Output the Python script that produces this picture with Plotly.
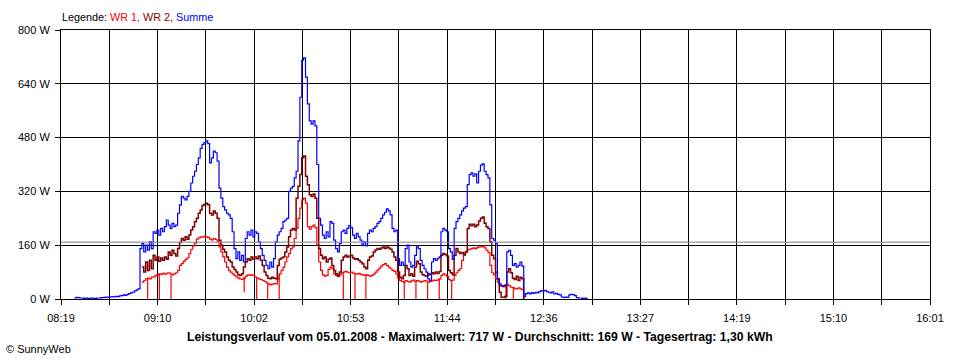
import numpy as np
import plotly.graph_objects as go

# ---------------- data ----------------
# minute samples; each list starts at its *_start time, one value per minute
summe_start = "08:26"
summe_w = [
    3, 5, 4, 3, 3, 2, 3, 2, 2, 3,
    2, 2, 3, 3, 4, 4, 5, 6, 5, 6,
    7, 6, 8, 7, 9, 10, 12, 11, 14, 16,
    18, 20, 24, 27, 30, 150, 165, 140, 160, 145,
    170, 150, 200, 195, 205, 190, 210, 200, 215, 235,
    220, 210, 225, 215, 220, 255, 280, 305, 300, 295,
    305, 320, 345, 365, 380, 400, 420, 448, 460, 465,
    470, 462, 405, 420, 440, 435, 410, 330, 300, 275,
    265, 255, 250, 240, 200, 150, 120, 140, 115, 130,
    110, 180, 200, 190, 205, 185, 200, 195, 170, 150,
    130, 115, 100, 90, 110, 95, 120, 170, 190, 200,
    210, 230, 235, 240, 320, 330, 335, 360, 380, 470,
    600, 710, 717, 660, 580, 530, 520, 530, 515, 400,
    240, 220, 190, 180, 200, 185, 230, 225, 175, 150,
    140, 165, 200, 205, 195, 210, 218, 212, 190, 180,
    195, 185, 175, 160, 170, 158, 195, 205, 200, 210,
    215, 225, 230, 240, 250, 258, 268, 262, 250, 210,
    200, 205, 120, 100, 110, 100, 150, 160, 110, 95,
    100, 130, 155, 150, 115, 100, 90, 80, 60, 55,
    110, 120, 115, 120, 125, 200, 210, 205, 200, 150,
    140, 118, 210, 230, 240, 250, 262, 270, 275, 340,
    370, 375, 365, 372, 345, 380, 398, 402, 380, 370,
    360, 280, 180, 175, 165, 60, 45, 40, 38, 42,
    140, 145, 130, 100, 105, 95, 100, 110, 98, 8,
    16, 18, 15, 19, 17, 20, 18, 22, 25, 24,
    26, 22, 20, 18, 21, 15, 17, 14, 12, 6,
    5, 6, 5, 12, 14, 13, 10, 4, 3, 3,
    2, 3, 2, 2,
]

wr_start = "09:02"
wr1_w = [
    50, 55, 60, 62, 60, 65, 66, 70, 72, 75,
    73, 76, 74, 77, 78, 75, 72, 75, 78, 85,
    100, 105, 112, 118, 122, 135, 148, 158, 166, 178,
    182, 185, 184, 187, 185, 183, 178, 176, 180, 177,
    172, 155, 140, 125, 110, 95, 85, 80, 75, 70,
    66, 62, 60, 58, 62, 68, 72, 70, 72, 70,
    65, 62, 60, 58, 55, 52, 48, 45, 42, 44,
    46, 45, 60, 75, 85, 95, 110, 125, 135, 150,
    155, 180, 210, 240, 270, 295, 300, 285, 215, 208,
    215, 220, 212, 160, 110, 85, 72, 68, 70, 88,
    95, 90, 75, 70, 68, 72, 78, 80, 82, 80,
    78, 80, 77, 75, 74, 76, 73, 72, 70, 72,
    70, 68, 70, 74, 80, 86, 92, 98, 102, 105,
    100, 95, 90, 85, 82, 75, 62, 55, 52, 50,
    55, 52, 50, 54, 56, 52, 55, 53, 50, 52,
    55, 53, 50, 52, 54, 56, 55, 57, 60, 70,
    75, 72, 68, 58, 55, 56, 70, 78, 85, 90,
    115, 130, 140, 146, 148, 150, 152, 150, 153, 155,
    155, 157, 152, 145, 138, 100, 78, 72, 60, 50,
    40, 38, 36, 40, 42, 40, 35, 34, 30, 31,
    33, 30, 28, 0,
]

wr2_w = [
    95, 80, 110, 85, 115, 90, 130, 115, 125, 112,
    122, 115, 125, 118, 140, 130, 145, 135, 128, 150,
    168, 180, 175, 185, 178, 190, 205, 215, 230, 240,
    255, 265, 278, 282, 285, 280, 255, 250, 262, 255,
    240, 175, 160, 148, 140, 125, 115, 110, 95, 88,
    80, 72, 70, 75, 95, 110, 120, 115, 125, 118,
    125, 120, 128, 115, 100, 80, 70, 62, 60, 65,
    62, 60, 100, 118, 122, 125, 140, 155, 185, 205,
    210, 205, 300, 335, 370, 420, 425, 365, 340, 310,
    305, 312, 300, 240, 150, 130, 120, 125, 110, 118,
    122, 100, 85, 75, 68, 80, 115, 125, 130, 125,
    128, 130, 122, 118, 120, 115, 110, 105, 95, 90,
    115, 125, 128, 140, 146, 150, 148, 152, 155, 150,
    155, 152, 148, 140, 125, 115, 80, 65, 60, 70,
    100, 90, 70, 75, 68, 95, 112, 105, 80, 72,
    70, 68, 75, 72, 78, 75, 80, 76, 82, 130,
    135, 132, 128, 85, 78, 72, 130, 150, 140, 135,
    138, 132, 140, 210, 222, 218, 222, 215, 220, 232,
    240, 244, 225, 215, 210, 170, 130, 120, 80, 60,
    20, 5, 5, 8, 80, 90, 78, 62, 58, 68,
    55, 65, 60, 0,
]

# short dropouts of WR 1 (time, value reached)
wr1_drop_times = ["09:05:06", "09:11:18", "09:17:30", "09:56:24", "10:03:00",
                  "10:08:54", "10:15:00", "10:49:06", "10:55:18", "11:01:06",
                  "11:21:30", "11:27:42", "11:33:54", "11:40:06", "11:46:42",
                  "12:15:36", "12:19:30"]
wr1_drop_floor = [0, 0, 0, 20, 0, 0, 0, 0, 0, 0, 0, 0, 0, 0, 0, 0, 0]

x_tick_labels = ["08:19", "09:10", "10:02", "10:53", "11:44",
                 "12:36", "13:27", "14:19", "15:10", "16:01"]
y_ticks = [0, 160, 320, 480, 640, 800]
average_w = 169
title_text = ("Leistungsverlauf vom 05.01.2008 - Maximalwert: 717 W - "
              "Durchschnitt: 169 W - Tagesertrag: 1,30 kWh")


# ---------------- helpers ----------------
def to_min(s):
    p = [int(v) for v in s.split(":")]
    return p[0] * 60 + p[1] + (p[2] / 60 if len(p) > 2 else 0)


def times(start, n):
    t0 = to_min(start)
    return [t0 + i for i in range(n)]


t_sum = times(summe_start, len(summe_w))
t_wr1 = times(wr_start, len(wr1_w))
t_wr2 = times(wr_start, len(wr2_w))

x_lo = to_min(x_tick_labels[0])
x_hi = to_min(x_tick_labels[-1])
n_grid = 2 * (len(x_tick_labels) - 1)
grid_vals = [x_lo + (x_hi - x_lo) * k / n_grid for k in range(n_grid + 1)]
grid_text = [x_tick_labels[k // 2] if k % 2 == 0 else "" for k in range(n_grid + 1)]

# drop segments
dx, dy = [], []
for ts, fl in zip(wr1_drop_times, wr1_drop_floor):
    tm = to_min(ts)
    top = float(np.interp(tm, t_wr1, wr1_w))
    dx += [tm, tm, None]
    dy += [fl, top, None]

RED = "#FF0000"
MAROON = "#800000"
BLUE = "#0000FF"

fig = go.Figure()
fig.add_trace(go.Scatter(x=t_wr1, y=wr1_w, mode="lines", line=dict(color=RED, width=1.2, shape="hv"),
                         name="WR 1", hoverinfo="skip"))
fig.add_trace(go.Scatter(x=dx, y=dy, mode="lines", line=dict(color=RED, width=1.2),
                         hoverinfo="skip", showlegend=False))
fig.add_trace(go.Scatter(x=t_wr2, y=wr2_w, mode="lines", line=dict(color=MAROON, width=1.5, shape="hv"),
                         name="WR 2", hoverinfo="skip"))
fig.add_trace(go.Scatter(x=t_sum, y=summe_w, mode="lines", line=dict(color=BLUE, width=1.2, shape="hv"),
                         name="Summe", hoverinfo="skip"))

# average line
fig.add_shape(type="line", xref="paper", x0=0, x1=1, yref="y", y0=average_w, y1=average_w,
              line=dict(color="#808080", width=1), layer="above")

FONT = "Liberation Sans"
fig.update_layout(
    width=960, height=360,
    margin=dict(l=61, r=30, t=30, b=61),
    paper_bgcolor="white", plot_bgcolor="white",
    showlegend=False,
    font=dict(family=FONT, size=11, color="black"),
    xaxis=dict(range=[x_lo, x_hi], tickmode="array", tickvals=grid_vals, ticktext=grid_text,
               showgrid=True, gridcolor="black", gridwidth=1,
               showline=True, linecolor="black", linewidth=1, mirror=True,
               ticks="outside", ticklen=5, tickcolor="black", zeroline=False,
               ticklabelstandoff=4, fixedrange=True),
    yaxis=dict(range=[y_ticks[0], y_ticks[-1]], tickmode="array", tickvals=y_ticks,
               ticktext=[f"{v} W" for v in y_ticks],
               showgrid=True, gridcolor="black", gridwidth=1,
               showline=True, linecolor="black", linewidth=1, mirror=True,
               ticks="outside", ticklen=5, tickcolor="black", zeroline=False,
               ticklabelstandoff=3, fixedrange=True),
)

legend_html = (f"Legende: <span style='color:{RED}'>WR 1,</span> "
               f"<span style='color:{MAROON}'>WR 2,</span> "
               f"<span style='color:{BLUE}'>Summe</span>")
fig.add_annotation(text=legend_html, xref="paper", yref="paper", x=-1 / 869, y=1 + 13 / 269,
                   xanchor="left", yanchor="middle", showarrow=False,
                   font=dict(family=FONT, size=10.8, color="black"))
fig.add_annotation(text=f"<b>{title_text}</b>", xref="paper", yref="paper",
                   x=(480 - 61) / 869, y=-38 / 269, xanchor="center", yanchor="middle",
                   showarrow=False, font=dict(family=FONT, size=12.2, color="black"))
fig.add_annotation(text="© SunnyWeb", xref="paper", yref="paper",
                   x=-57 / 869, y=-50 / 269, xanchor="left", yanchor="middle",
                   showarrow=False, font=dict(family=FONT, size=11, color="black"))

fig.write_html("out.html", config={"displayModeBar": False, "staticPlot": True},
               post_script="document.body.style.margin='0px';document.body.style.overflow='hidden';")
